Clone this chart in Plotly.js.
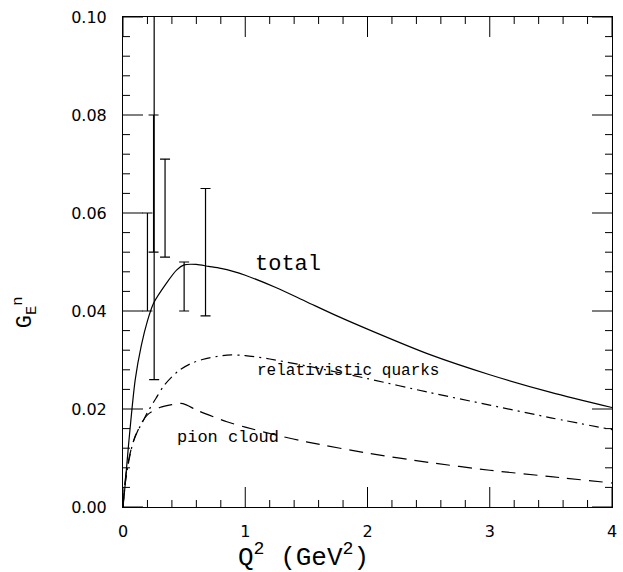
<!DOCTYPE html>
<html>
<head>
<meta charset="utf-8">
<script src="https://cdn.plot.ly/plotly-3.0.1.min.js"></script>
<style>html,body{margin:0;padding:0;background:#fff;}</style>
</head>
<body>
<div id="chart" style="width:623px;height:572px;"></div>
<script>
// Total G_E^n (solid)
const totalX = [0, 0.016, 0.044, 0.1, 0.15, 0.2, 0.25, 0.35, 0.44, 0.5, 0.6, 0.7, 0.8, 0.9, 1.0, 1.25, 1.5, 1.75, 2.0, 2.5, 3.0, 3.5, 4.0];
const totalY = [0, 0.0041, 0.0123, 0.026, 0.033, 0.038, 0.0416, 0.0455, 0.0484, 0.0494, 0.0495, 0.0491, 0.0487, 0.0481, 0.0473, 0.0448, 0.0419, 0.039, 0.0363, 0.0312, 0.027, 0.0234, 0.0203];
// relativistic quarks (dash-dot)
const quarkX = [0, 0.011, 0.039, 0.066, 0.1, 0.161, 0.2, 0.27, 0.339, 0.45, 0.55, 0.65, 0.85, 1.0, 1.2, 1.5, 2.0, 2.5, 3.0, 3.5, 4.0];
const quarkY = [0, 0.0034, 0.0082, 0.0116, 0.0145, 0.0174, 0.0193, 0.0222, 0.0249, 0.0277, 0.0292, 0.0301, 0.031, 0.0309, 0.0302, 0.0288, 0.0262, 0.0234, 0.0208, 0.0182, 0.0158];
// pion cloud (dashed)
const pionX = [0, 0.025, 0.08, 0.15, 0.2, 0.3, 0.4, 0.49, 0.6, 0.7, 0.85, 1.0, 1.25, 1.5, 2.0, 2.5, 3.0, 3.5, 4.0];
const pionY = [0, 0.0068, 0.013, 0.0171, 0.0188, 0.0203, 0.0209, 0.0211, 0.0198, 0.0188, 0.0174, 0.0163, 0.0147, 0.0133, 0.011, 0.0091, 0.0075, 0.0062, 0.0049];
// data with error bars (only the bars are drawn)
const dataX = [0.2, 0.255, 0.25, 0.344, 0.5, 0.675];
const dataLow = [0.040, 0.026, 0.052, 0.051, 0.040, 0.039];
const dataHigh = [0.060, 0.120, 0.080, 0.071, 0.050, 0.065];
// axis tick values
const xMajorTicks = [0, 1, 2, 3, 4];
const yMajorTicks = [0, 0.02, 0.04, 0.06, 0.08, 0.1];
const yTickLabels = ['0.00', '0.02', '0.04', '0.06', '0.08', '0.10'];
const xMinorStep = 0.2;
const yMinorStep = 0.004;

const dataY = dataLow.map((l, i) => (l + dataHigh[i]) / 2);
const errPlus = dataHigh.map((h, i) => h - dataY[i]);
const errMinus = dataLow.map((l, i) => dataY[i] - l);

const traces = [
  {x: totalX, y: totalY, mode: 'lines', line: {color: 'black', width: 1.2, shape: 'spline', smoothing: 0.8}, hoverinfo: 'skip'},
  {x: quarkX, y: quarkY, mode: 'lines', line: {color: 'black', width: 1.2, dash: '10px,5px,2px,5px', shape: 'spline', smoothing: 0.8}, hoverinfo: 'skip'},
  {x: pionX, y: pionY, mode: 'lines', line: {color: 'black', width: 1.2, dash: '14px,8px', shape: 'spline', smoothing: 0.8}, hoverinfo: 'skip'},
  {x: dataX, y: dataY, mode: 'markers', marker: {size: 0.1, color: 'rgba(0,0,0,0)'},
   error_y: {type: 'data', symmetric: false, array: errPlus, arrayminus: errMinus, color: 'black', thickness: 1.2, width: 5}}
];

// inside tick marks on all four sides, built from the tick values
const shapes = [];
const tickLine = {color: 'black', width: 1};
function xTick(v, len) {
  shapes.push({type: 'line', xref: 'x', yref: 'paper', ysizemode: 'pixel', yanchor: 0, x0: v, x1: v, y0: 0, y1: len, line: tickLine, layer: 'above'});
  shapes.push({type: 'line', xref: 'x', yref: 'paper', ysizemode: 'pixel', yanchor: 1, x0: v, x1: v, y0: 0, y1: -len, line: tickLine, layer: 'above'});
}
function yTick(v, len) {
  shapes.push({type: 'line', xref: 'paper', yref: 'y', xsizemode: 'pixel', xanchor: 0, y0: v, y1: v, x0: 0, x1: len, line: tickLine, layer: 'above'});
  shapes.push({type: 'line', xref: 'paper', yref: 'y', xsizemode: 'pixel', xanchor: 1, y0: v, y1: v, x0: 0, x1: -len, line: tickLine, layer: 'above'});
}
xMajorTicks.forEach(v => xTick(v, 20));
yMajorTicks.forEach(v => yTick(v, 20));
for (let k = 1; k * xMinorStep < 4 - 1e-9; k++) if (k % 5) xTick(+(k * xMinorStep).toFixed(3), 7);
for (let k = 1; k * yMinorStep < 0.1 - 1e-9; k++) if (k % 5) yTick(+(k * yMinorStep).toFixed(4), 7);

const tickFont = {family: 'DejaVu Sans', size: 16, color: 'black'};
const layout = {
  width: 623, height: 572,
  margin: {l: 123, r: 11, t: 17, b: 65},
  paper_bgcolor: 'white', plot_bgcolor: 'white',
  showlegend: false,
  shapes: shapes,
  xaxis: {
    range: [0, 4], tickmode: 'array', tickvals: xMajorTicks, ticktext: xMajorTicks.map(String),
    ticks: '', showline: true, linecolor: 'black', linewidth: 1, mirror: true,
    showgrid: false, zeroline: false, tickfont: tickFont, ticklabelstandoff: 10
  },
  yaxis: {
    range: [0, 0.1], tickmode: 'array', tickvals: yMajorTicks, ticktext: yTickLabels,
    ticks: '', showline: true, linecolor: 'black', linewidth: 1, mirror: true,
    showgrid: false, zeroline: false, tickfont: tickFont, ticklabelstandoff: 12
  },
  annotations: [
    {x: 1.35, y: 0.0494, text: 'total', showarrow: false, font: {family: 'Liberation Mono', size: 22, color: 'black'}},
    {x: 1.84, y: 0.0277, text: 'relativistic quarks', showarrow: false, font: {family: 'Liberation Mono', size: 16, color: 'black'}},
    {x: 0.86, y: 0.0141, text: 'pion cloud', showarrow: false, font: {family: 'Liberation Mono', size: 17, color: 'black'}},
    {xref: 'paper', yref: 'paper', x: 0.37, y: -0.101, xanchor: 'center', yanchor: 'middle', showarrow: false,
     text: 'Q<sup>2</sup> (GeV<sup>2</sup>)', font: {family: 'Liberation Mono', size: 26, color: 'black'}},
    {xref: 'paper', yref: 'paper', x: -0.2, y: 0.398, xanchor: 'center', yanchor: 'middle', showarrow: false, textangle: -90,
     text: 'G<sub>E</sub><sup>n</sup>', font: {family: 'Liberation Mono', size: 22, color: 'black'}}
  ]
};

Plotly.newPlot('chart', traces, layout, {staticPlot: true, displayModeBar: false});
</script>
</body>
</html>
